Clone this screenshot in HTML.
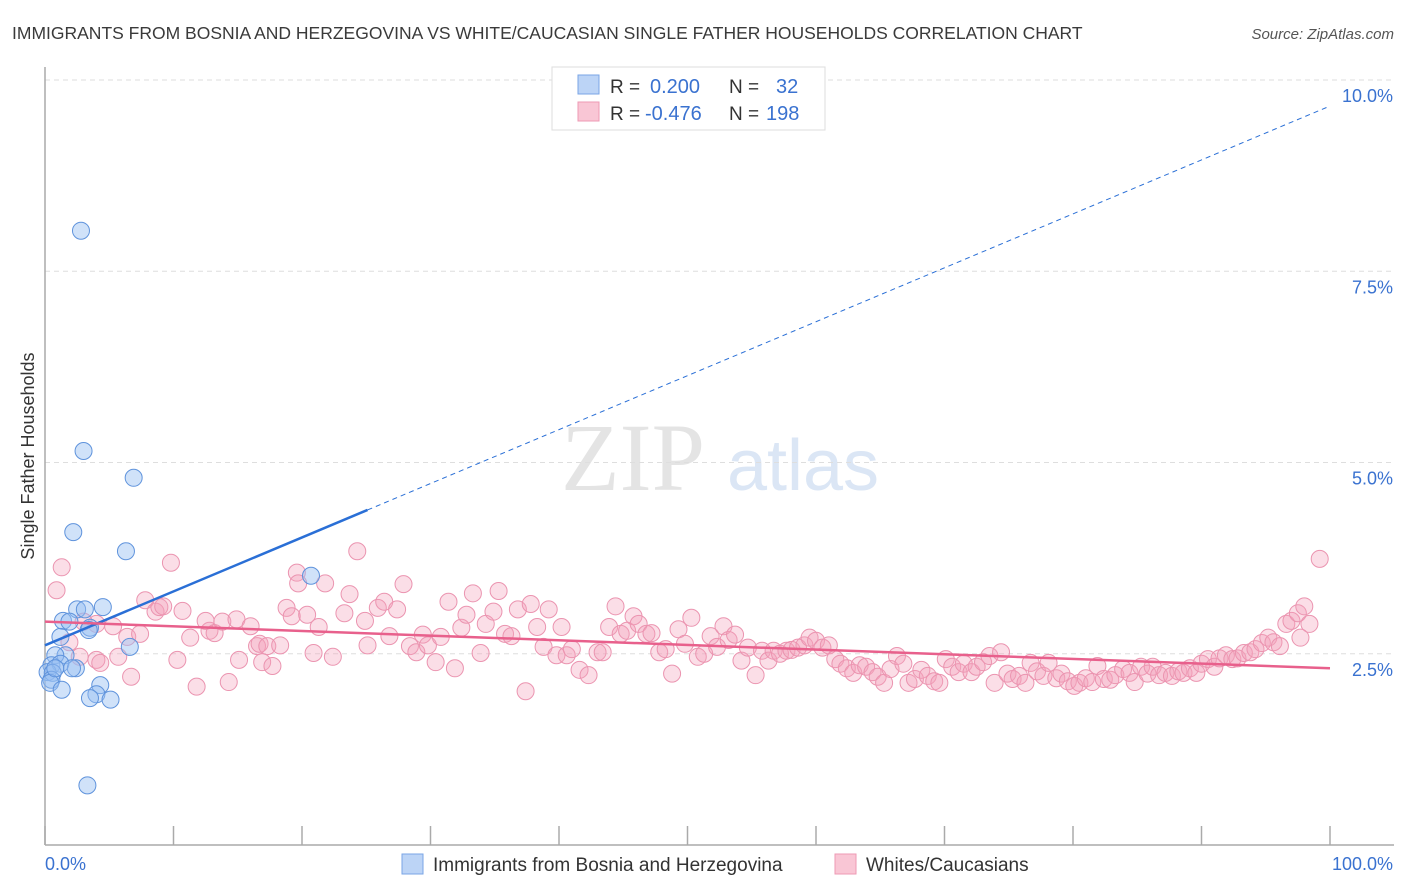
<!DOCTYPE html>
<html><head><meta charset="utf-8"><style>
body{margin:0;background:#fff;font-family:"Liberation Sans",sans-serif;}
svg{display:block}
</style></head><body>
<svg id="chart" width="1406" height="892" viewBox="0 0 1406 892" xmlns="http://www.w3.org/2000/svg">
<text x="12" y="39" font-size="17.5" fill="#3a3a3a">IMMIGRANTS FROM BOSNIA AND HERZEGOVINA VS WHITE/CAUCASIAN SINGLE FATHER HOUSEHOLDS CORRELATION CHART</text>
<text x="1394" y="39" font-size="15" fill="#555" text-anchor="end" font-style="italic">Source: ZipAtlas.com</text>
<g>
<text x="633" y="490" font-size="96" fill="#e4e4e4" text-anchor="middle" font-family="Liberation Serif, serif">ZIP</text>
<text x="803" y="490" font-size="72" fill="#dbe6f5" text-anchor="middle">atlas</text>
</g>
<g id="grid"></g>
<g id="axes"></g>
<g id="pts"></g>
<g id="trends"></g>
<text transform="translate(34,456) rotate(-90)" font-size="18" fill="#333" text-anchor="middle">Single Father Households</text>
<g>
<rect x="552" y="67" width="273" height="63" fill="#fff" stroke="#ddd"/>
<rect x="578" y="75" width="21" height="19" fill="#bcd4f6" stroke="#7aa5e6"/>
<rect x="578" y="102" width="21" height="19" fill="#f9c6d5" stroke="#ee9ab4"/>
<text x="610" y="93" font-size="19" fill="#333">R = </text>
<text x="650" y="93" font-size="20" fill="#3a72d0">0.200</text>
<text x="729" y="93" font-size="19" fill="#333">N = </text>
<text x="776" y="93" font-size="20" fill="#3a72d0">32</text>
<text x="610" y="120" font-size="19" fill="#333">R = </text>
<text x="645" y="120" font-size="20" fill="#3a72d0">-0.476</text>
<text x="729" y="120" font-size="19" fill="#333">N = </text>
<text x="766" y="120" font-size="20" fill="#3a72d0">198</text>
</g>
<g>
<rect x="402" y="854" width="21" height="20" fill="#bcd4f6" stroke="#7aa5e6"/>
<text x="433" y="871" font-size="19" fill="#333">Immigrants from Bosnia and Herzegovina</text>
<rect x="835" y="854" width="21" height="20" fill="#f9c6d5" stroke="#ee9ab4"/>
<text x="866" y="871" font-size="19" fill="#333">Whites/Caucasians</text>
</g>
</svg>
<script>
const blueX=[2.8,3.0,6.9,2.2,6.3,20.7,4.5,2.5,3.1,1.4,1.9,3.5,3.4,1.2,6.6,1.6,0.8,0.5,1.2,2.4,0.2,0.6,2.1,0.5,0.4,1.3,4.3,4.0,3.5,5.1,3.3,0.8];
const blueY=[8.03,5.15,4.80,4.09,3.84,3.52,3.11,3.08,3.08,2.93,2.92,2.84,2.81,2.72,2.59,2.48,2.48,2.35,2.37,2.31,2.26,2.25,2.31,2.16,2.12,2.03,2.09,1.97,1.92,1.90,0.78,2.31];
const pinkX=[1.3,0.9,7.8,8.6,8.9,9.8,9.2,10.7,11.3,6.4,7.4,5.3,4.0,3.0,1.9,2.7,4.0,4.3,5.7,6.7,10.3,11.8,14.3,12.8,12.5,13.2,13.8,14.9,15.1,16.0,16.5,16.9,16.7,17.3,17.7,18.3,18.8,19.2,19.6,20.4,19.7,20.9,21.3,21.8,22.4,23.3,23.7,24.3,24.9,25.1,25.9,26.4,26.8,27.4,27.9,28.4,28.9,29.4,29.8,30.4,30.8,31.4,31.9,32.4,32.8,33.3,33.9,34.3,34.9,35.3,35.8,36.3,36.8,37.4,37.8,38.3,38.8,39.2,39.8,40.2,40.6,41.0,41.6,42.3,43.0,43.4,43.9,44.4,44.8,45.3,45.8,46.2,46.8,47.2,47.8,48.3,48.8,49.3,49.8,50.3,50.8,51.3,51.8,52.3,52.8,53.2,53.7,54.2,54.7,55.3,55.8,56.3,56.7,57.2,57.7,58.1,58.6,59.1,59.5,60.0,60.5,61.0,61.5,61.9,62.4,62.9,63.4,63.9,64.4,64.8,65.3,65.8,66.3,66.8,67.2,67.7,68.2,68.7,69.2,69.6,70.1,70.6,71.1,71.5,72.1,72.5,73.0,73.5,73.9,74.4,74.9,75.3,75.8,76.3,76.7,77.2,77.7,78.1,78.7,79.1,79.6,80.1,80.5,81.0,81.5,81.9,82.4,82.9,83.3,83.9,84.4,84.8,85.3,85.8,86.2,86.7,87.2,87.7,88.2,88.6,89.1,89.6,90.0,90.5,91.0,91.4,91.9,92.4,92.8,93.3,93.8,94.2,94.7,95.2,95.6,96.1,96.6,97.0,97.5,98.0,98.4,99.2,97.7];
const pinkY=[3.63,3.33,3.20,3.05,3.11,3.69,3.12,3.06,2.71,2.72,2.76,2.86,2.89,2.92,2.65,2.46,2.42,2.38,2.46,2.20,2.42,2.07,2.13,2.80,2.93,2.77,2.92,2.95,2.42,2.86,2.60,2.39,2.63,2.60,2.34,2.61,3.10,2.99,3.56,3.01,3.42,2.51,2.85,3.42,2.46,3.03,3.28,3.84,2.93,2.61,3.10,3.18,2.73,3.08,3.41,2.60,2.52,2.75,2.61,2.39,2.72,3.18,2.31,2.84,3.01,3.29,2.51,2.89,3.05,3.32,2.76,2.73,3.08,2.01,3.15,2.85,2.59,3.08,2.48,2.85,2.48,2.56,2.29,2.22,2.52,2.52,2.85,3.12,2.76,2.80,2.99,2.89,2.76,2.77,2.52,2.56,2.24,2.82,2.63,2.97,2.46,2.50,2.73,2.59,2.86,2.68,2.75,2.41,2.58,2.22,2.54,2.41,2.54,2.50,2.54,2.55,2.58,2.61,2.71,2.67,2.58,2.61,2.43,2.37,2.31,2.25,2.35,2.33,2.26,2.20,2.12,2.30,2.47,2.37,2.12,2.17,2.29,2.21,2.14,2.12,2.43,2.33,2.26,2.37,2.26,2.33,2.39,2.47,2.12,2.52,2.24,2.17,2.21,2.12,2.38,2.27,2.21,2.38,2.18,2.24,2.14,2.08,2.12,2.18,2.13,2.34,2.17,2.16,2.22,2.30,2.25,2.13,2.33,2.24,2.33,2.22,2.25,2.21,2.27,2.25,2.31,2.25,2.37,2.43,2.33,2.44,2.48,2.43,2.44,2.51,2.52,2.56,2.64,2.71,2.65,2.60,2.89,2.93,3.03,3.12,2.89,3.74,2.71];
const blueTrend=[2.61,9.66];
const pinkTrend=[2.92,2.31];
const yTicks=[2.5,5.0,7.5,10.0];
const yTickLabels=["2.5%","5.0%","7.5%","10.0%"];
const xTicks=[0,10,20,30,40,50,60,70,80,90,100];

const NS="http://www.w3.org/2000/svg";
const X0=45,X1=1330,Y0=845,PXY=76.5;
function sx(v){return X0+(X1-X0)*v/100;}
function sy(v){return Y0-v*PXY;}
function mk(tag,attrs,parent){const e=document.createElementNS(NS,tag);for(const k in attrs)e.setAttribute(k,attrs[k]);parent.appendChild(e);return e;}
const grid=document.getElementById('grid'),axes=document.getElementById('axes'),pts=document.getElementById('pts'),tr=document.getElementById('trends');
yTicks.forEach((t,i)=>{
  const l=mk('line',{x1:X0,x2:1394,y1:sy(t),y2:sy(t),stroke:'#dedede','stroke-dasharray':'5,4'},grid);
  
  
  const tx=mk('text',{x:1393,y:sy(t)+22,'font-size':18,fill:'#3a72d0','text-anchor':'end'},axes);
  tx.textContent=yTickLabels[i];
  
  
});
const ya=mk('line',{x1:X0,x2:X0,y1:67,y2:Y0,stroke:'#aaa','stroke-width':1.5},axes);


const xa=mk('line',{x1:X0,x2:1394,y1:Y0,y2:Y0,stroke:'#aaa','stroke-width':1.5},axes);


xTicks.forEach(t=>{
  const l=mk('line',{x1:sx(t),x2:sx(t),y1:Y0-19,y2:Y0,stroke:'#aaa','stroke-width':1.5},axes);
  
  
});
const xl0=mk('text',{x:45,y:870,'font-size':18,fill:'#3a72d0'},axes);xl0.textContent='0.0%';


const xl1=mk('text',{x:1393,y:870,'font-size':18,fill:'#3a72d0','text-anchor':'end'},axes);xl1.textContent='100.0%';


pinkX.forEach((v,i)=>{
  const c=mk('circle',{cx:sx(v),cy:sy(pinkY[i]),r:8.5,fill:'rgba(244,160,186,0.35)',stroke:'#eb94b0','stroke-width':1},pts);
  
  
});
blueX.forEach((v,i)=>{
  const c=mk('circle',{cx:sx(v),cy:sy(blueY[i]),r:8.5,fill:'rgba(150,190,242,0.45)',stroke:'#5f93dc','stroke-width':1},pts);
  
  
});
const bAt=x=>blueTrend[0]+(blueTrend[1]-blueTrend[0])*x/100;
const bs=mk('line',{x1:sx(0),y1:sy(bAt(0)),x2:sx(25.1),y2:sy(bAt(25.1)),stroke:'#2a6fd6','stroke-width':2.5},tr);


const bd=mk('line',{x1:sx(25.1),y1:sy(bAt(25.1)),x2:sx(100),y2:sy(bAt(100)),stroke:'#2a6fd6','stroke-width':1,'stroke-dasharray':'5,4'},tr);


const pl=mk('line',{x1:sx(0),y1:sy(pinkTrend[0]),x2:sx(100),y2:sy(pinkTrend[1]),stroke:'#e8608c','stroke-width':2.5},tr);


</script>
</body></html>
